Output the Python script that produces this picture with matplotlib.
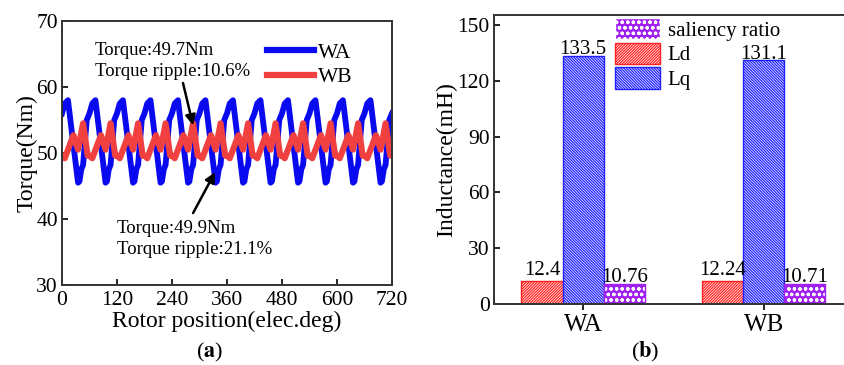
import numpy as np
import matplotlib
matplotlib.use("Agg")
from matplotlib import pyplot as plt
from matplotlib.patches import Patch
from matplotlib.lines import Line2D

plt.rcParams['font.family'] = ['Liberation Serif', 'DejaVu Serif']
plt.rcParams['mathtext.fontset'] = 'stix'
plt.rcParams['hatch.linewidth'] = 0.9

# (a) torque waveform, one 60 elec.deg period, repeated 12 times
period = 60
wa_pos = [0, 6, 13, 35, 38, 42, 46, 54]
wa_val = [56.0, 57.5, 58.0, 45.5, 45.7, 47.5, 48.2, 55.0]
wb_pos = [0, 6, 25, 35, 46, 56]
wb_val = [49.6, 49.2, 52.7, 50.5, 54.5, 49.6]
n_periods = 12

# (b) inductance bars
groups = ['WA', 'WB']
ld = [12.4, 12.24]
lq = [133.5, 131.1]
saliency = [10.76, 10.71]


def repeat(pos, val):
    x = np.concatenate([np.array(pos) + k * period for k in range(n_periods)] + [[n_periods * period]])
    y = np.concatenate([val] * n_periods + [[val[0]]])
    return x, y


fig = plt.figure(figsize=(8.44, 3.65), dpi=100)
W, H = 844, 365

# ---------- (a) ----------
ax1 = fig.add_axes([62 / W, 1 - 285 / H, 330 / W, 264 / H])
xa, ya = repeat(wa_pos, wa_val)
xb, yb = repeat(wb_pos, wb_val)
ax1.plot(xa, ya, color='#0a0af0', lw=4.2, solid_joinstyle='round')
ax1.plot(xb, yb, color='#f04040', lw=4.4, solid_joinstyle='round')
ax1.set_xlim(0, 720)
ax1.set_ylim(30, 70)
ax1.set_xticks(range(0, 721, 120))
ax1.set_yticks(range(30, 71, 10))
ax1.tick_params(direction='in', labelsize=15.5, length=4, width=1.2, pad=4)
ax1.tick_params(axis='y', pad=3)
ax1.set_xlabel('Rotor position(elec.deg)', fontsize=17, labelpad=1)
ax1.set_ylabel('Torque(Nm)', fontsize=17, labelpad=-1)
for s in ax1.spines.values():
    s.set_linewidth(1.4)
    s.set_color('#333333')

handles = [Line2D([], [], color='#0a0af0', lw=4.5), Line2D([], [], color='#f04040', lw=4.5)]
ax1.legend(handles, ['WA', 'WB'], loc='upper left', bbox_to_anchor=(0.595, 0.95),
           frameon=False, fontsize=15.5, handlelength=2.2, handletextpad=0.15,
           labelspacing=0.2, borderaxespad=0)

arrow = dict(arrowstyle='-|>', color='black', lw=1.8, mutation_scale=15, shrinkA=0, shrinkB=0)
ax1.annotate('', xy=(286, 54.2), xytext=(264, 60.6), arrowprops=arrow)
ax1.text(72, 63.9, 'Torque:49.7Nm\nTorque ripple:10.6%', fontsize=13.5, ha='left', va='center',
         linespacing=1.3)
ax1.annotate('', xy=(334, 47.1), xytext=(286, 40.9), arrowprops=arrow)
ax1.text(120, 37.0, 'Torque:49.9Nm\nTorque ripple:21.1%', fontsize=13.5, ha='left', va='center',
         linespacing=1.3)

fig.text(210 / W, 1 - 352 / H, r'($\mathbf{a}$)', fontsize=16, ha='center', va='center')

# ---------- (b) ----------
ax2 = fig.add_axes([494 / W, 1 - 304 / H, 360 / W, 289 / H])
x = np.arange(len(groups))
w = 0.228
red, blue, purple = '#ff2020', '#2020ff', '#a020f0'
red_hatch = '/' * 12
blue_hatch = '\\' * 12
dot_hatch = 'ooo'

ax2.bar(x - w, ld, w, color='white', edgecolor=red, hatch=red_hatch, lw=1.0)
ax2.bar(x, lq, w, color='white', edgecolor=blue, hatch=blue_hatch, lw=1.0)
ax2.bar(x + w, saliency, w, color=purple, edgecolor='white', hatch=dot_hatch, lw=0)
ax2.bar(x + w, saliency, w, fill=False, edgecolor=purple, lw=1.0)

for xi, v in zip(x - w, ld):
    ax2.text(xi, v + 0.5, f'{v:g}', ha='center', va='bottom', fontsize=15)
for xi, v in zip(x, lq):
    ax2.text(xi, v - 2.0, f'{v:g}', ha='center', va='bottom', fontsize=15)
for xi, v in zip(x + w, saliency):
    ax2.text(xi, v - 1.5, f'{v:g}', ha='center', va='bottom', fontsize=15)

ax2.set_xlim(-0.494, 1.5)
ax2.set_ylim(0, 155.4)
ax2.set_yticks(range(0, 151, 30))
ax2.set_xticks(x)
ax2.set_xticklabels(groups)
ax2.tick_params(direction='in', labelsize=15.5, length=4, width=1.2, pad=3)
ax2.tick_params(axis='x', direction='out', labelsize=18, pad=3)
ax2.set_ylabel('Inductance(mH)', fontsize=17, labelpad=0)
for s in ax2.spines.values():
    s.set_linewidth(1.4)
    s.set_color('#333333')

leg_handles = [Patch(facecolor=purple, edgecolor='white', hatch=dot_hatch),
               Patch(facecolor='white', edgecolor=red, hatch=red_hatch),
               Patch(facecolor='white', edgecolor=blue, hatch=blue_hatch)]
ax2.legend(leg_handles, ['saliency ratio', 'Ld', 'Lq'], loc='upper left',
           bbox_to_anchor=(0.335, 0.99), frameon=False, fontsize=15,
           handlelength=2.2, handleheight=1.2, handletextpad=0.35,
           labelspacing=0.1, borderaxespad=0, borderpad=0)

fig.text(645 / W, 1 - 352 / H, r'($\mathbf{b}$)', fontsize=16, ha='center', va='center')

fig.savefig('out.png', dpi=100)
